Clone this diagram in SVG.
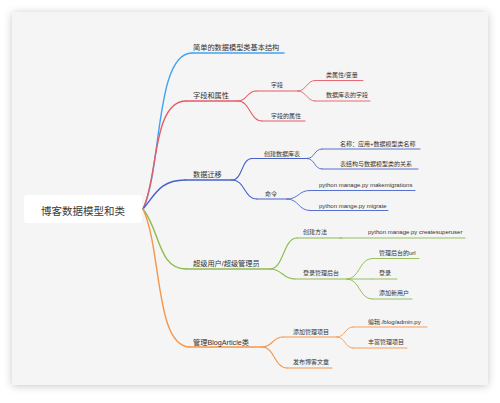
<svg xmlns="http://www.w3.org/2000/svg" width="500" height="403" viewBox="0 0 500 403">
<defs>
<filter id="sh" x="-10%" y="-10%" width="120%" height="120%">
<feDropShadow dx="0" dy="1" stdDeviation="4" flood-color="#000" flood-opacity="0.22"/>
</filter>
<style>
text{font-family:"Liberation Sans","Noto Sans CJK SC",sans-serif;fill:#333}
.m{font-size:7.2px}
.s{font-size:6px}
.r{font-size:10.5px;fill:#3a3a3a}
path,line{fill:none;stroke-linecap:round}
.b{stroke:#3da5f4}
.rd{stroke:#e95a64}
.i{stroke:#4762c9}
.g{stroke:#8dbb50}
.o{stroke:#f5964a}
.w1{stroke-width:1.4}
.w2{stroke-width:1.1}
.w3{stroke-width:0.9}
</style>
</defs>
<rect width="500" height="403" fill="#fff"/>
<rect x="12" y="12" width="476" height="373" rx="3" fill="#f5f5f5" filter="url(#sh)"/>

<g id="connectors">
<path class="b w1" d="M143,209 C162,170 155,53 192,53"/>
<path class="rd w1" d="M143,209 C158,180 152,101 186,101"/>
<path class="i w1" d="M143,209 C155,195 160,180 185,180"/>
<path class="g w1" d="M143,209 C160,230 158,269 186,269"/>
<path class="o w1" d="M143,209 C162,250 155,347 190,347"/>

<path class="rd w2" d="M238,101 C247,101 247,91 256,91"/>
<path class="rd w2" d="M238,101 C250,101 250,121 262,121"/>
<path class="rd w3" d="M298,91 C306,91 307,80.5 315,80.5"/>
<path class="rd w3" d="M298,91 C306,91 307,101 315,101"/>

<path class="i w2" d="M232,180 C243,180 241,158.5 252,158.5"/>
<path class="i w2" d="M232,180 C245,180 244,199 257,199"/>
<path class="i w3" d="M307,158.5 C315,158.5 314,149 322,149"/>
<path class="i w3" d="M307,158.5 C315,158.5 314,169 322,169"/>
<path class="i w3" d="M287,199 C299,199 298,190.5 310,190.5"/>
<path class="i w3" d="M287,199 C299,199 298,210.5 310,210.5"/>

<path class="g w2" d="M270,269 C284,269 283,238 297,238"/>
<path class="g w2" d="M270,269 C283,269 282,279 295,279"/>
<path class="g w3" d="M340,238 H342"/>
<path class="g w3" d="M347,279 C360,279 359,258.5 372,258.5"/>
<path class="g w3" d="M347,279 H372"/>
<path class="g w3" d="M347,279 C360,279 359,299 372,299"/>

<path class="o w2" d="M262,347 C273,347 272,337 283,337"/>
<path class="o w2" d="M262,347 C275,347 274,368 287,368"/>
<path class="o w3" d="M337,337 C345,337 345,327 353,327"/>
<path class="o w3" d="M337,337 C345,337 345,348 353,348"/>
</g>

<g id="root">
<rect x="24" y="195" width="118" height="28" rx="3" fill="#fff"/>
<text class="r" x="83" y="214.5" text-anchor="middle">博客数据模型和类</text>
</g>

<g id="n-simple"><line class="b w1" x1="192" y1="53" x2="284" y2="53"/><text class="m" x="193" y="50">简单的数据模型类基本结构</text></g>

<g id="n-fields"><line class="rd w1" x1="186" y1="101" x2="238" y2="101"/><text class="m" x="193" y="98">字段和属性</text></g>
<g id="n-ziduan"><line class="rd w2" x1="256" y1="91" x2="298" y2="91"/><text class="s" x="271" y="87">字段</text></g>
<g id="n-ziduan-attr"><line class="rd w2" x1="262" y1="121" x2="305" y2="121"/><text class="s" x="271" y="117.5">字段的属性</text></g>
<g id="n-class-attr"><line class="rd w3" x1="315" y1="80.5" x2="363" y2="80.5"/><text class="s" x="326" y="76.5">类属性/变量</text></g>
<g id="n-db-field"><line class="rd w3" x1="315" y1="101" x2="370" y2="101"/><text class="s" x="326" y="97">数据库表的字段</text></g>

<g id="n-migrate"><line class="i w1" x1="185" y1="180" x2="232" y2="180"/><text class="m" x="193" y="176.5">数据迁移</text></g>
<g id="n-create-table"><line class="i w2" x1="252" y1="158.5" x2="307" y2="158.5"/><text class="s" x="264" y="156">创建数据库表</text></g>
<g id="n-cmd"><line class="i w2" x1="257" y1="199" x2="287" y2="199"/><text class="s" x="265" y="196">命令</text></g>
<g id="n-name"><line class="i w3" x1="322" y1="149" x2="420" y2="149"/><text class="s" x="340" y="146">名称：应用+数据模型类名称</text></g>
<g id="n-rel"><line class="i w3" x1="322" y1="169" x2="418" y2="169"/><text class="s" x="340" y="166">表结构与数据模型类的关系</text></g>
<g id="n-mk"><line class="i w3" x1="310" y1="190.5" x2="415" y2="190.5"/><text class="s" x="319" y="186.5">python manage.py makemigrations</text></g>
<g id="n-mg"><line class="i w3" x1="310" y1="210.5" x2="388" y2="210.5"/><text class="s" x="319" y="208">python mange.py migrate</text></g>

<g id="n-super"><line class="g w1" x1="186" y1="269" x2="270" y2="269"/><text class="m" x="193" y="265.5">超级用户/超级管理员</text></g>
<g id="n-create-method"><line class="g w2" x1="297" y1="238" x2="340" y2="238"/><text class="s" x="303" y="234">创建方法</text></g>
<g id="n-createsuperuser"><line class="g w3" x1="340" y1="238" x2="465" y2="238"/><text class="s" x="368" y="234">python manage.py createsuperuser</text></g>
<g id="n-login-admin"><line class="g w2" x1="295" y1="279" x2="347" y2="279"/><text class="s" x="303" y="275">登录管理后台</text></g>
<g id="n-url"><line class="g w3" x1="372" y1="258.5" x2="419" y2="258.5"/><text class="s" x="379" y="255">管理后台的url</text></g>
<g id="n-login"><line class="g w3" x1="372" y1="279" x2="397" y2="279"/><text class="s" x="379" y="275">登录</text></g>
<g id="n-adduser"><line class="g w3" x1="372" y1="299" x2="412" y2="299"/><text class="s" x="379" y="295">添加新用户</text></g>

<g id="n-blog"><line class="o w1" x1="190" y1="347" x2="262" y2="347"/><text class="m" x="193" y="344.5">管理BlogArticle类</text></g>
<g id="n-add-admin"><line class="o w2" x1="283" y1="337" x2="337" y2="337"/><text class="s" x="293" y="334">添加管理项目</text></g>
<g id="n-publish"><line class="o w2" x1="287" y1="368" x2="332" y2="368"/><text class="s" x="293" y="364">发布博客文章</text></g>
<g id="n-edit"><line class="o w3" x1="353" y1="327" x2="427" y2="327"/><text class="s" x="368" y="324">编辑./blog/admin.py</text></g>
<g id="n-rich"><line class="o w3" x1="353" y1="348" x2="407" y2="348"/><text class="s" x="368" y="344">丰富管理项目</text></g>
</svg>
